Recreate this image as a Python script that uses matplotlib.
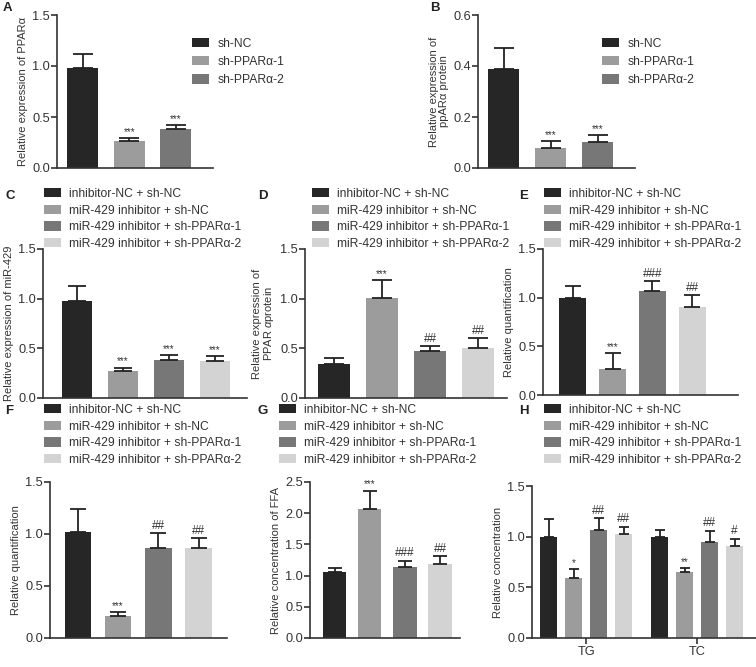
import matplotlib
matplotlib.use("Agg")
import matplotlib.pyplot as plt
from matplotlib.patches import Patch
import numpy as np

plt.rcParams["font.family"] = ["Liberation Sans", "DejaVu Sans"]
plt.rcParams["mathtext.fontset"] = "custom"
plt.rcParams["mathtext.it"] = "Liberation Sans:italic"

W, H = 756, 667
DPI = 100

# ---- data ----
sh_groups = ["sh-NC", "sh-PPARα-1", "sh-PPARα-2"]
rescue_groups = [
    "inhibitor-NC + sh-NC",
    "miR-429 inhibitor + sh-NC",
    "miR-429 inhibitor + sh-PPARα-1",
    "miR-429 inhibitor + sh-PPARα-2",
]

a_mean = [0.98, 0.26, 0.38]
a_err = [0.14, 0.03, 0.04]
a_sig = ["", "***", "***"]

b_mean = [0.39, 0.08, 0.10]
b_err = [0.08, 0.025, 0.03]
b_sig = ["", "***", "***"]

c_mean = [0.98, 0.27, 0.38, 0.37]
c_err = [0.15, 0.035, 0.05, 0.055]
c_sig = ["", "***", "***", "***"]

d_mean = [0.34, 1.01, 0.47, 0.50]
d_err = [0.06, 0.18, 0.05, 0.10]
d_sig = ["", "***", "##", "##"]

e_mean = [1.00, 0.27, 1.07, 0.90]
e_err = [0.12, 0.16, 0.10, 0.13]
e_sig = ["", "***", "###", "##"]

f_mean = [1.02, 0.21, 0.87, 0.87]
f_err = [0.22, 0.04, 0.14, 0.09]
f_sig = ["", "***", "##", "##"]

g_mean = [1.06, 2.07, 1.13, 1.19]
g_err = [0.06, 0.29, 0.11, 0.12]
g_sig = ["", "***", "###", "##"]

h_categories = ["TG", "TC"]
h_tg_mean = [1.00, 0.59, 1.07, 1.03]
h_tg_err = [0.17, 0.09, 0.11, 0.07]
h_tg_sig = ["", "*", "##", "##"]
h_tc_mean = [1.00, 0.65, 0.95, 0.91]
h_tc_err = [0.07, 0.04, 0.11, 0.07]
h_tc_sig = ["", "**", "##", "#"]

sh_colors = ["#262626", "#9c9c9c", "#777777"]
rescue_colors = ["#262626", "#9c9c9c", "#777777", "#d3d3d3"]

INK = "#333333"
TICK_FS = 9.2
LABEL_FS = 8.0
LEG_FS = 8.7


def px_axes(fig, x0, y0, x1, y1):
    return fig.add_axes([x0 / W, 1 - y1 / H, (x1 - x0) / W, (y1 - y0) / H])


def style(ax, ylim, yticks, ylabel, xticks=False):
    for s in ("top", "right"):
        ax.spines[s].set_visible(False)
    for s in ("left", "bottom"):
        ax.spines[s].set_linewidth(1.2)
        ax.spines[s].set_color(INK)
    ax.set_ylim(*ylim)
    ax.set_yticks(yticks)
    ax.set_yticklabels([f"{t:.1f}" for t in yticks])
    ax.tick_params(axis="y", direction="out", length=4, width=1.2,
                   color=INK, labelcolor=INK, labelsize=TICK_FS, pad=1)
    if xticks:
        ax.tick_params(axis="x", direction="out", length=4, width=1.2,
                       color=INK, labelcolor=INK, labelsize=TICK_FS, pad=2)
    else:
        ax.set_xticks([])
    ax.set_ylabel(ylabel, fontsize=LABEL_FS, color=INK, labelpad=3,
                  linespacing=1.0)


def bars(ax, x, means, errs, sigs, colors, width, ylim):
    ax.bar(x, means, width, color=colors, zorder=2)
    x0, x1 = ax.get_xlim()
    ppu = ax.get_position().width * W / (x1 - x0)
    # errorbar caps are drawn with markersize = 2 * capsize
    cap = 0.62 * width * ppu * 72 / DPI / 2
    ax.errorbar(x, means, yerr=[np.zeros(len(errs)), errs], fmt="none",
                ecolor="#222222", elinewidth=1.3, capsize=cap,
                capthick=1.3, zorder=3)
    pad = (ylim[1] - ylim[0]) * 0.008
    for xi, m, e, s in zip(x, means, errs, sigs):
        if not s:
            continue
        fs = 7.0 if "*" in s else 8.5
        ax.text(xi, m + e + pad, s, ha="center", va="bottom",
                fontsize=fs, color=INK)


def legend(fig, labels, colors, x_px, y_px, spacing=0.38):
    handles = [Patch(facecolor=c, edgecolor="none") for c in colors]
    fig.legend(handles, labels, loc="upper left",
               bbox_to_anchor=(x_px / W, 1 - y_px / H),
               bbox_transform=fig.transFigure, frameon=False,
               fontsize=LEG_FS, borderpad=0, borderaxespad=0,
               handlelength=1.4, handleheight=0.8, handletextpad=0.7,
               labelspacing=spacing, labelcolor=INK)


def panel_label(fig, s, x_px, y_px):
    fig.text(x_px / W, 1 - y_px / H, s, fontsize=9.5, fontweight="bold",
             ha="left", va="center", color="#222222")


def simple_panel(fig, box, xlim, means, errs, sigs, colors, ylim, yticks,
                 ylabel, width=0.66):
    ax = px_axes(fig, *box)
    ax.set_xlim(*xlim)
    style(ax, ylim, yticks, ylabel)
    bars(ax, np.arange(len(means)), means, errs, sigs, colors, width, ylim)
    return ax


fig = plt.figure(figsize=(W / DPI, H / DPI), dpi=DPI)

# A
simple_panel(fig, (57, 15, 213, 168), (-0.55, 2.8), a_mean, a_err, a_sig,
             sh_colors, (0, 1.5), [0, 0.5, 1.0, 1.5],
             "Relative expression of PPARα")
legend(fig, sh_groups, sh_colors, 192, 38, spacing=0.5)
panel_label(fig, "A", 3, 8)

# B
simple_panel(fig, (478, 15, 635, 168), (-0.55, 2.8), b_mean, b_err, b_sig,
             sh_colors, (0, 0.6), [0, 0.2, 0.4, 0.6],
             "Relative expression of\nppARα protein")
legend(fig, sh_groups, sh_colors, 602, 38, spacing=0.5)
panel_label(fig, "B", 430, 8)

# C
simple_panel(fig, (43, 249, 247, 398), (-0.74, 3.7), c_mean, c_err, c_sig,
             rescue_colors, (0, 1.5), [0, 0.5, 1.0, 1.5],
             "Relative expression of miR-429")
legend(fig, rescue_groups, rescue_colors, 44, 188)
panel_label(fig, "C", 5, 196)

# D
simple_panel(fig, (305, 249, 507, 398), (-0.6, 3.6), d_mean, d_err, d_sig,
             rescue_colors, (0, 1.5), [0, 0.5, 1.0, 1.5],
             "Relative expression of\nPPAR $\\alpha$protein")
legend(fig, rescue_groups, rescue_colors, 312, 188)
panel_label(fig, "D", 258, 196)

# E
simple_panel(fig, (543, 249, 738, 395), (-0.74, 4.14), e_mean, e_err, e_sig,
             rescue_colors, (0, 1.5), [0, 0.5, 1.0, 1.5],
             "Relative quantification")
legend(fig, rescue_groups, rescue_colors, 544, 188)
panel_label(fig, "E", 519, 196)

# F
simple_panel(fig, (50, 482, 227, 638), (-0.69, 3.7), f_mean, f_err, f_sig,
             rescue_colors, (0, 1.5), [0, 0.5, 1.0, 1.5],
             "Relative quantification")
legend(fig, rescue_groups, rescue_colors, 44, 404)
panel_label(fig, "F", 5, 411)

# G
simple_panel(fig, (310, 482, 460, 638), (-0.71, 3.57), g_mean, g_err, g_sig,
             rescue_colors, (0, 2.5), [0, 0.5, 1.0, 1.5, 2.0, 2.5],
             "Relative concentration of FFA")
legend(fig, rescue_groups, rescue_colors, 279, 404)
panel_label(fig, "G", 258, 411)

# H (grouped)
ax = px_axes(fig, 532, 486, 756, 638)
ax.set_xlim(-0.49, 1.53)
style(ax, (0, 1.5), [0, 0.5, 1.0, 1.5], "Relative concentration",
      xticks=True)
step, bw = 0.225, 0.153
offsets = (np.arange(4) - 1.5) * step
for gi, (m, e, s) in enumerate([(h_tg_mean, h_tg_err, h_tg_sig),
                                (h_tc_mean, h_tc_err, h_tc_sig)]):
    bars(ax, gi + offsets, m, e, s, rescue_colors, bw, (0, 1.5))
ax.set_xticks(np.arange(len(h_categories)))
ax.set_xticklabels(h_categories)
legend(fig, rescue_groups, rescue_colors, 544, 404)
panel_label(fig, "H", 519, 411)

fig.savefig("out.png", dpi=DPI)
plt.close(fig)
